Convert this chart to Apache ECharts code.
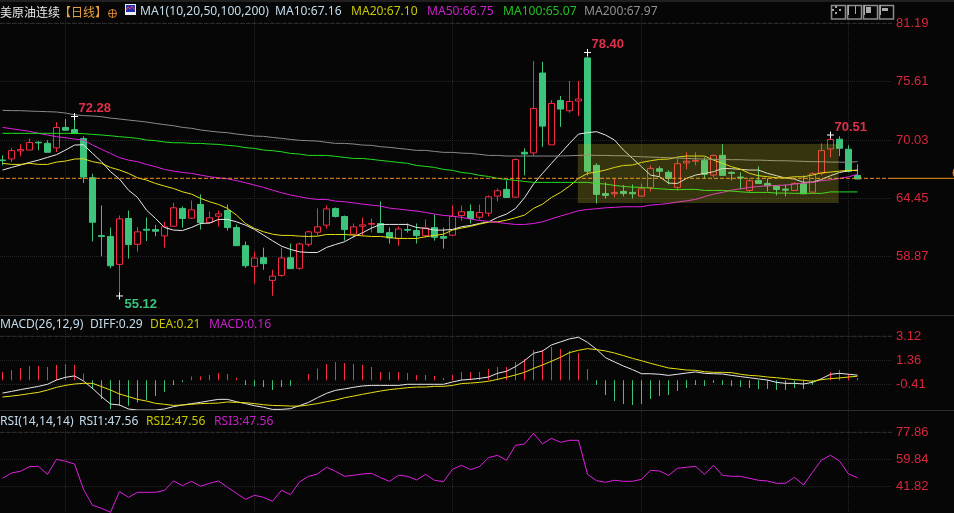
<!DOCTYPE html>
<html><head><meta charset="utf-8">
<style>html,body{margin:0;padding:0;background:#060606;overflow:hidden}#c{width:954px;height:513px}</style>
<script src="https://cdn.jsdelivr.net/npm/echarts@6/dist/echarts.min.js"></script>
</head><body><div id="c"></div>
<script>
// open, close, low, high
const candles=[
[68.12,68.06,67.61,68.57],[68.22,69.02,67.93,69.28],[68.99,69.12,68.48,69.63],[69.08,69.79,69.05,70.17],[69.82,69.76,69.05,69.91],[69.72,68.86,68.86,70.01],[69.28,71.23,68.89,71.74],[71.23,70.97,70.97,72.03],[71.03,70.65,70.65,72.28],[70.17,66.49,65.92,70.39],
[66.43,62.17,60.32,66.81],[60.89,60.80,58.91,63.77],[60.80,58.01,57.76,61.66],[58.14,62.49,55.12,62.81],[62.53,60.03,58.69,63.29],[60.06,61.25,59.36,61.73],[61.50,61.41,60.38,62.62],[61.47,61.31,60.83,61.92],[60.86,61.73,59.74,62.21],[61.79,63.55,61.73,64.03],
[63.49,62.53,61.66,63.68],[62.56,63.36,62.49,64.25],[63.87,62.14,61.47,64.83],[62.14,62.59,62.01,63.20],[62.75,62.97,61.76,63.29],[63.29,61.66,61.37,63.87],[61.66,59.93,59.93,61.95],[59.93,58.01,57.82,60.32],[57.95,58.75,56.29,59.36],[58.78,58.21,57.63,59.74],
[56.61,57.02,55.14,57.63],[57.09,58.75,56.96,59.74],[58.78,57.73,57.73,60.13],[57.76,60.09,57.63,60.22],[60.06,61.25,59.84,61.37],[61.21,61.73,60.89,63.49],[61.89,63.45,61.57,63.77],[63.49,62.72,62.62,63.58],[62.72,61.47,60.41,62.81],[61.02,61.73,60.70,62.05],
[61.79,61.92,60.89,62.62],[61.98,62.05,61.18,62.53],[62.05,61.18,61.18,64.16],[61.18,60.67,60.13,61.66],[60.61,61.53,59.93,61.76],[61.47,61.41,61.18,62.05],[61.37,60.89,60.13,62.05],[60.89,61.63,60.70,62.43],[61.66,60.73,60.41,62.91],[60.80,60.64,59.65,61.66],
[60.93,62.72,60.89,63.77],[62.81,63.17,62.33,63.77],[63.20,62.53,62.05,63.87],[62.65,63.10,62.43,63.87],[63.04,64.60,62.72,64.73],[64.67,65.18,64.16,65.40],[65.31,64.54,64.54,66.17],[64.57,68.16,64.54,68.28],[68.86,68.70,66.65,69.24],[68.80,73.05,68.48,77.59],
[76.44,71.36,69.37,77.50],[69.57,73.53,69.57,73.85],[73.82,72.99,71.29,74.24],[72.83,73.72,72.64,75.68],[73.76,73.95,72.32,75.68],[77.88,67.04,66.65,78.40],[67.61,64.83,63.96,67.80],[64.92,64.73,64.44,65.98],[64.89,65.02,64.54,66.36],[65.12,64.92,64.64,65.72],
[65.02,64.89,64.44,65.79],[64.67,65.37,64.64,65.88],[65.47,67.32,65.12,67.61],[67.29,67.04,66.56,67.52],[66.94,66.36,65.79,67.13],[65.50,67.77,65.21,68.25],[67.84,68.00,67.23,68.86],[68.00,68.09,67.61,68.86],[68.09,66.75,66.36,68.38],[66.68,68.54,66.46,68.67],
[68.57,66.65,66.65,69.63],[66.94,66.84,66.17,67.04],[66.49,66.40,65.31,66.94],[65.21,66.14,65.02,66.36],[66.17,65.88,65.88,67.52],[65.88,65.66,65.12,66.36],[65.60,65.31,64.73,65.69],[65.34,65.24,64.64,65.79],[65.21,65.88,65.21,65.98],[65.85,64.89,64.89,66.65],
[65.05,66.81,65.02,66.94],[66.84,69.02,66.65,69.72],[69.18,70.08,68.38,70.51],[70.11,69.24,68.48,70.39],[69.15,67.04,66.94,69.53],[66.65,66.30,66.30,67.71]];
const ma10=[67.16,67.41,67.64,67.89,68.11,68.37,68.63,69.07,69.55,69.58,68.75,67.96,67.0,66.30,65.24,64.54,63.33,62.53,61.67,61.42,61.38,61.67,62.05,62.09,62.44,62.44,62.21,61.89,61.48,60.94,60.40,59.88,59.57,59.34,59.28,59.28,
59.76,60.04,60.30,60.78,61.16,61.61,61.96,61.96,61.96,61.96,61.67,61.58,61.42,61.42,61.48,61.74,61.86,62.05,62.21,62.63,62.95,63.49,64.51,65.82,66.84,67.80,68.75,69.71,70.60,70.73,70.83,70.51,70.03,69.07,68.27,67.48,66.68,66.52,65.91,65.88,66.36,66.68,66.84,67.0,67.32,67.29,67.22,67.16,67.16,66.84,66.62,66.39,66.30,65.98,66.01,66.26,66.62,66.93,67.09,67.16];
const ma20=[67.80,67.70,67.70,67.80,67.70,67.70,67.92,68.02,68.21,68.24,67.96,67.80,67.41,67.16,66.84,66.42,66.20,65.88,65.63,65.40,65.08,64.86,64.45,64.13,63.87,63.49,62.85,62.05,61.58,61.26,61.03,60.91,60.91,60.84,60.81,60.84,
61.0,61.0,61.0,60.94,60.87,60.81,60.81,60.71,60.62,60.62,60.62,60.78,60.91,61.03,61.42,61.61,61.77,61.99,62.18,62.21,62.37,62.60,62.85,63.49,63.90,64.54,65.02,65.63,66.36,66.84,66.97,67.16,67.41,67.60,67.64,67.89,68.05,68.18,68.21,68.40,68.50,68.50,68.50,68.11,67.80,67.48,67.25,66.84,66.62,66.52,66.42,66.42,66.52,66.52,66.68,66.90,66.97,67.06,67.13,67.10];
const ma50=[71.24,71.11,70.99,70.86,70.67,70.51,70.35,70.25,70.12,70.03,69.55,69.14,68.75,68.34,68.11,67.96,67.70,67.48,67.22,67.06,66.93,66.84,66.68,66.52,66.42,66.33,66.14,65.95,65.72,65.50,65.24,64.99,64.77,64.61,64.45,64.35,
64.35,64.19,64.13,64.03,63.90,63.81,63.71,63.52,63.43,63.33,63.23,63.11,62.95,62.82,62.76,62.63,62.47,62.34,62.25,62.15,62.05,61.96,61.96,62.05,62.21,62.50,62.76,63.01,63.27,63.39,63.46,63.55,63.59,63.65,63.65,63.65,63.81,63.87,63.97,64.10,64.22,64.35,64.61,64.86,65.02,65.24,65.37,65.50,65.59,65.66,65.69,65.72,65.82,65.91,65.98,66.14,66.23,66.36,66.52,66.75];
const ma100=[70.67,70.67,70.67,70.67,70.67,70.67,70.67,70.67,70.67,70.64,70.57,70.51,70.44,70.35,70.28,70.19,70.03,69.97,69.84,69.77,69.77,69.71,69.71,69.65,69.61,69.52,69.45,69.30,69.23,69.07,69.01,68.91,68.75,68.69,68.56,68.56,
68.56,68.47,68.37,68.27,68.27,68.18,68.08,67.99,67.89,67.80,67.60,67.51,67.41,67.22,67.13,66.93,66.84,66.65,66.55,66.36,66.26,66.17,66.07,65.98,65.98,65.98,65.98,65.98,65.98,65.98,65.88,65.82,65.69,65.59,65.53,65.50,65.43,65.37,65.31,65.28,65.31,65.31,65.21,65.21,65.21,65.15,65.08,65.02,65.02,65.02,64.96,64.96,64.93,64.93,64.93,64.93,65.07,65.07,65.07,65.07];
const ma200=[72.87,72.84,72.84,72.80,72.77,72.74,72.71,72.61,72.45,72.36,72.33,72.26,72.13,72.04,71.94,71.85,71.75,71.62,71.50,71.40,71.24,71.15,70.99,70.89,70.79,70.73,70.60,70.51,70.41,70.38,70.28,70.19,70.09,70.0,69.97,69.93,
69.81,69.71,69.71,69.65,69.55,69.52,69.39,69.33,69.23,69.14,69.04,69.04,68.94,68.85,68.85,68.78,68.75,68.66,68.56,68.56,68.50,68.50,68.50,68.50,68.50,68.50,68.50,68.53,68.56,68.59,68.56,68.56,68.53,68.53,68.47,68.43,68.40,68.37,68.34,68.31,68.27,68.24,68.21,68.18,68.18,68.15,68.15,68.11,68.11,68.08,68.05,68.05,68.02,67.99,67.96,67.96,67.92,67.92,67.89,67.97];
const diff=[-1.02,-0.90,-0.77,-0.65,-0.53,-0.38,-0.07,0.13,0.23,-0.14,-0.68,-1.28,-1.82,-1.89,-2.18,-2.26,-2.26,-2.26,-2.18,-2.01,-1.89,-1.79,-1.70,-1.58,-1.48,-1.48,-1.65,-1.79,-1.94,-2.06,-2.21,-2.21,-2.16,-1.94,-1.70,-1.36,-1.04,-0.82,-0.72,-0.60,-0.50,-0.46,-0.46,-0.46,-0.46,-0.38,-0.38,-0.38,-0.38,-0.38,
-0.21,-0.07,-0.02,0.05,0.15,0.42,0.57,0.91,1.34,1.88,2.05,2.49,2.71,2.93,3.05,2.68,2.17,1.56,1.25,0.95,0.69,0.39,0.39,0.35,0.27,0.35,0.44,0.52,0.42,0.39,0.37,0.27,0.18,0.10,0.01,-0.07,-0.24,-0.31,-0.31,-0.36,-0.24,0.03,0.35,0.42,0.35,0.29];
const dea=[-1.31,-1.24,-1.16,-1.06,-0.97,-0.80,-0.60,-0.46,-0.36,-0.31,-0.31,-0.55,-0.80,-1.09,-1.28,-1.48,-1.60,-1.77,-1.84,-1.92,-1.89,-1.84,-1.79,-1.77,-1.75,-1.67,-1.70,-1.72,-1.79,-1.87,-1.92,-1.94,-1.97,-1.97,-1.89,-1.79,-1.65,-1.53,-1.36,-1.24,-1.11,-0.99,-0.87,-0.77,-0.70,-0.63,-0.58,-0.58,-0.53,-0.53,
-0.46,-0.33,-0.29,-0.24,-0.16,-0.02,0.13,0.30,0.49,0.78,1.03,1.30,1.59,1.93,2.10,2.22,2.15,2.05,1.90,1.71,1.51,1.34,1.15,0.98,0.81,0.74,0.66,0.64,0.54,0.49,0.49,0.47,0.35,0.27,0.23,0.15,0.10,0.03,-0.04,-0.09,-0.16,-0.04,0.03,0.08,0.15,0.21];
const macd=[.61,.75,.88,1.05,1.05,.97,1.12,1.19,1.12,.49,-.63,-1.36,-2.09,-1.85,-1.85,-1.61,-1.44,-1.14,-.85,-.34,-.12,.27,.27,.39,.54,.46,.19,-.34,-.44,-.49,-.71,-.49,-.41,.03,.46,.85,1.19,1.34,1.27,1.19,1.12,.97,.61,.61,.61,.54,.39,.39,.32,.17,
.39,.61,.61,.61,.83,.97,.97,1.34,1.56,2.21,2.21,2.43,2.29,2.14,2.0,.83,-.34,-1.07,-1.51,-1.73,-1.80,-1.73,-1.36,-1.14,-1.07,-.78,-.56,-.34,-.41,-.19,-.34,-.41,-.49,-.56,-.63,-.63,-.71,-.71,-.56,-.63,-.34,.15,.61,.75,.46,.16];
const rsi=[47.16,50.72,51.83,54.94,55.16,49.82,59.84,58.50,56.72,39.81,29.13,27.13,24.46,38.26,34.47,37.81,37.81,37.81,39.15,45.38,42.26,45.15,41.82,43.82,45.38,41.15,37.14,33.14,35.80,34.47,31.80,39.15,36.25,44.71,48.49,50.05,54.50,51.83,48.49,49.16,50.05,50.49,47.60,45.15,49.16,48.49,46.04,49.82,45.82,44.93,
53.16,55.83,52.94,54.94,60.95,62.51,59.17,69.18,70.07,77.19,70.07,73.85,71.18,72.52,72.52,49.82,45.60,44.49,45.82,45.15,45.15,46.49,52.49,52.05,49.16,53.83,54.50,55.16,49.82,55.83,49.16,48.49,48.49,47.16,45.82,45.38,43.82,43.82,47.82,42.71,51.16,59.39,62.51,58.73,50.05,47.56];
const priceTicks=[81.19,75.61,70.03,64.45,58.87];
const macdTicks=[3.12,1.36,-0.41];
const rsiTicks=[77.86,59.84,41.82];
const monthStarts=[7,28,50,71,94];
const lastPrice=66.37;
const extremes=[{i:65,v:78.40,up:true},{i:8,v:72.28,up:true},{i:13,v:55.12,up:false},{i:92,v:70.51,up:true}];
const boxX=[63.92,92.9], boxY=[69.65,64.01];

const RED='#f52b45',GREEN='#3cc47c',XMIN=-2.5/9,XMAX=889.5/9,BG='#060606';
const FONT='"Noto Sans","Noto Sans CJK SC",sans-serif';
const pts=a=>a.map((v,i)=>[i,v]);
const grids=[{left:0,width:892,top:16,height:299},{left:0,width:892,top:316,height:94},{left:0,width:892,top:411,height:102},{left:892,width:62,top:16,height:299}];
const xAxis=grids.map((g,i)=>({type:'value',gridIndex:i,min:i==3?0:XMIN,max:i==3?1:XMAX,show:i<3,
  axisLine:{show:false},axisLabel:{show:false},
  axisTick:{show:false,customValues:monthStarts},
  splitLine:{show:i<3,lineStyle:{color:'#262626',type:'dotted',width:1}}}));
function yA(grid,min,max,ticks){return {type:'value',gridIndex:grid,position:'right',min,max,scale:true,
  axisLine:{show:false},axisTick:{show:false,customValues:ticks},
  splitLine:{show:true,lineStyle:{color:'#262626',type:'dotted',width:1}},
  axisLabel:{show:true,inside:false,margin:4,color:'#d9263c',fontSize:13,fontFamily:'"Liberation Sans",sans-serif',customValues:ticks,formatter:v=>v.toFixed(2)}};}
const yAxis=[yA(0,53.30,81.89,priceTicks),yA(1,-2.255,4.60,macdTicks),yA(2,24.0,92.08,rsiTicks),
 {type:'value',gridIndex:3,min:53.30,max:81.89,show:false},
 {type:'value',gridIndex:1,min:-2.165,max:4.69,show:false}];
const line=(name,data,color,x=0,extra={})=>({name,type:'line',xAxisIndex:x,yAxisIndex:x,data:pts(data),showSymbol:false,symbol:'none',smooth:false,z:4,silent:true,lineStyle:{color,width:1},...extra});
const rule=(name,x,v,color,type)=>({name,type:'line',xAxisIndex:x,yAxisIndex:x,data:[[x==3?0:XMIN,v],[x==3?1:XMAX,v]],showSymbol:false,symbol:'none',z:3,silent:true,lineStyle:{color,type,width:1}});
const series=[
 rule('top-price',0,priceTicks[0],'#303030','dashed'),rule('top-macd',1,macdTicks[0],'#303030','dashed'),rule('top-rsi',2,rsiTicks[0],'#303030','dashed'),
 {name:'美原油连续',type:'candlestick',xAxisIndex:0,yAxisIndex:0,barWidth:7,z:2,silent:true,
  data:candles.map((c,i)=>[i,...c]),
  itemStyle:{color:'rgba(0,0,0,0)',color0:GREEN,borderColor:RED,borderColor0:GREEN,borderWidth:1},
  markPoint:{silent:true,z:8,data:extremes.map(e=>({coord:[e.i,e.v],value:e.v,symbol:'path://M0 4H8M4 0V8',symbolSize:7,
     itemStyle:{color:'none',borderColor:'#fff',borderWidth:1},
     label:{show:true,position:'right',formatter:e.v.toFixed(2),fontSize:13,fontWeight:'bold',fontFamily:'"Liberation Sans",sans-serif',color:e.up?'#e0304a':'#3cc47c',offset:e.up?[-7,-8]:[-6,8]}}))}},
 line('MA10',ma10,'#e8e8e8'),line('MA20',ma20,'#e8e010'),line('MA50',ma50,'#e020e0'),line('MA100',ma100,'#20e020'),line('MA200',ma200,'#8a8a8a'),
 {...rule('last',0,lastPrice,'#f09020','dashed'),z:5},
 {...rule('lastExt',3,lastPrice,'#f09020','solid'),z:5},
 {name:'box',type:'line',xAxisIndex:0,yAxisIndex:0,data:[],z:7,silent:true,
  markArea:{silent:true,z:7,itemStyle:{color:'rgba(200,190,40,0.25)'},data:[[{coord:[boxX[0],boxY[0]]},{coord:[boxX[1],boxY[1]]}]]}},
 {name:'MACD',type:'bar',xAxisIndex:1,yAxisIndex:4,barWidth:1,z:2,silent:true,data:pts(macd).map(([i,v])=>({value:[i,v],itemStyle:{color:v>=0?RED:GREEN}}))},
 line('DIFF',diff,'#e8e8e8',1),line('DEA',dea,'#e8e010',1),
 line('RSI',rsi,'#e020e0',2)
];
function text(t,x,y,fill,extra={}){return {type:'text',left:x,top:y,silent:true,z:20,style:{text:t,fill,font:'12.1px '+FONT,...extra}};}
function btn(x){return {type:'rect',left:x,top:3,silent:true,z:20,shape:{width:14,height:13.5},style:{fill:'none',stroke:'#8c8c8c',lineWidth:1.5}};}
function bar(x,y,w,h,f){return {type:'rect',left:x,top:y,silent:true,z:20,shape:{width:w,height:h},style:{fill:f}};}
const graphic=[
 bar(0,0,954,2,'#202020'),bar(0,315,954,1,'#2e2e2e'),bar(0,410,954,1,'#2e2e2e'),
 text('美原油连续',0,6,'#e8e8e8',{font:'12px "Noto Sans CJK SC"'}),
 text('【日线】',59,6,'#e6a040',{font:'12px "Noto Sans CJK SC"'}),
 {type:'circle',silent:true,z:20,shape:{cx:112.5,cy:13.5,r:4},style:{fill:'none',stroke:'#d08030',lineWidth:1}},
 bar(108,13,9,1,'#d08030'),bar(112,9,1,9,'#d08030'),
 bar(125,4,11,11,'#f0f0f0'),bar(126,5,9,7,'#2030b0'),
 {type:'polyline',silent:true,z:21,shape:{points:[[126,10],[128,7],[130,9],[132,6],[135,10]]},style:{stroke:'#e84040',fill:'none',lineWidth:1}},
 text('MA1(10,20,50,100,200)',140,5,'#c4dcec'),text('MA10:67.16',275,5,'#c4dcec'),text('MA20:67.10',351,5,'#c8c800'),text('MA50:66.75',427,5,'#c820c8'),text('MA100:65.07',503,5,'#20c020'),text('MA200:67.97',584,5,'#909090'),
 text('MACD(26,12,9)',0,318,'#c4dcec'),text('DIFF:0.29',90,318,'#c4dcec'),text('DEA:0.21',150,318,'#c8c800'),text('MACD:0.16',209,318,'#c820c8'),
 text('RSI(14,14,14)',0,415,'#c4dcec'),text('RSI1:47.56',79,415,'#c4dcec'),text('RSI2:47.56',146,415,'#c8c800'),text('RSI3:47.56',214,415,'#c820c8'),
 btn(829),btn(845),btn(861),btn(877),
 bar(832,9,2,2,'#aaa'),bar(839,9,2,2,'#aaa'),bar(835,6,2,2,'#aaa'),bar(835,12,2,2,'#aaa'),
 bar(848,5,1,10,'#aaa'),bar(855,6,1,8,'#aaa'),bar(864,5,1,10,'#aaa'),bar(866,7,5,6,'#aaa'),bar(880,5,1,10,'#aaa'),bar(882,8,6,3,'#aaa'),
 text('66.37',952,167,'#e69020')
];
const chart=echarts.init(document.getElementById('c'),null,{renderer:'canvas'});
chart.setOption({animation:false,backgroundColor:BG,tooltip:{show:false},grid:grids,xAxis,yAxis,series,graphic});
</script></body></html>
